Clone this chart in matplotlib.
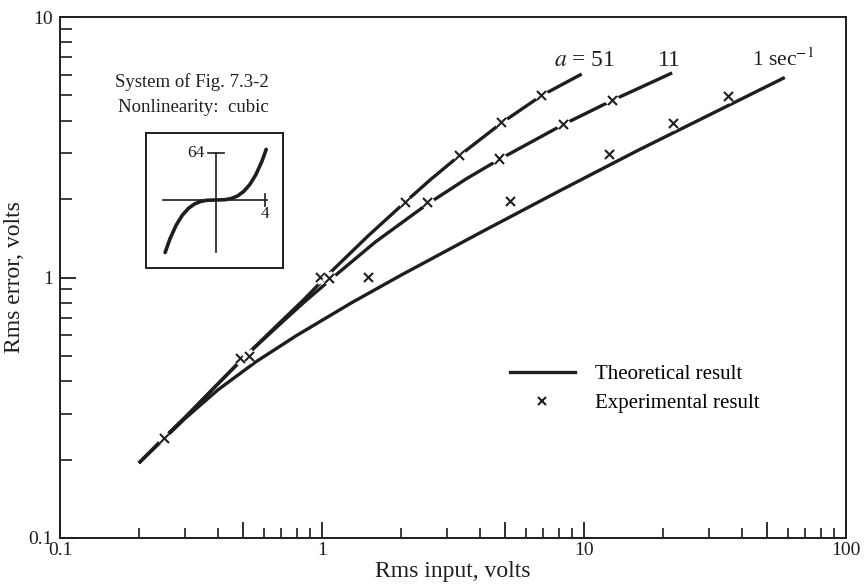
import matplotlib
matplotlib.use("Agg")
import matplotlib.pyplot as plt
import matplotlib.patheffects as pe
from matplotlib.ticker import FixedLocator, FuncFormatter, NullFormatter
from matplotlib.lines import Line2D

plt.rcParams['font.family'] = ['Liberation Serif', 'DejaVu Serif']
plt.rcParams['mathtext.fontset'] = 'stix'

INK = '#1e1e1e'

# ---- theoretical curves (Rms input, Rms error) ----
a51_x = [0.2, 0.25, 0.3, 0.4, 0.5, 0.7, 0.85, 1.0, 1.07, 1.5, 2.08, 2.6, 3.35, 4.86, 6.9, 9.8]
a51_y = [0.194, 0.243, 0.29, 0.39, 0.49, 0.68, 0.82, 0.97, 1.04, 1.445, 1.95, 2.38, 2.94, 3.93, 5.0, 6.04]

a11_x = [0.2, 0.25, 0.3, 0.4, 0.5, 0.7, 0.85, 1.1, 1.6, 2.5, 3.55, 4.75, 8.35, 12.9, 21.7]
a11_y = [0.194, 0.243, 0.29, 0.39, 0.49, 0.67, 0.80, 1.0, 1.37, 1.9, 2.39, 2.84, 3.87, 4.8, 6.1]

a1_x = [0.2, 0.3, 0.4, 0.56, 0.8, 1.3, 2.0, 4.0, 8.0, 16.0, 32.0, 58.4]
a1_y = [0.194, 0.2875, 0.37, 0.475, 0.599, 0.801, 1.02, 1.483, 2.141, 3.07, 4.34, 5.86]

# ---- experimental points ----
exp51_x = [0.25, 0.49, 0.99, 2.08, 3.35, 4.86, 6.9]
exp51_y = [0.24, 0.49, 1.0, 1.94, 2.94, 3.93, 5.0]
exp11_x = [0.53, 1.07, 2.53, 4.75, 8.35, 12.9]
exp11_y = [0.497, 0.99, 1.94, 2.85, 3.88, 4.77]
exp1_x = [1.5, 5.26, 12.5, 22.0, 35.7]
exp1_y = [1.0, 1.95, 2.97, 3.9, 4.94]

curve_labels = ['$a$ = 51', '11', '1 sec$^{-1}$']

# ---- inset cubic nonlinearity ----
cub_x = [-4.15, -3.75, -3.25, -2.75, -2.25, -1.75, -1.25, -0.75, 0, 0.75, 1.25, 1.75, 2.25, 2.75, 3.25, 3.75, 4.1]
cub_y = [-71.5, -52.7, -34.3, -20.8, -11.4, -5.4, -2.0, -0.4, 0, 0.4, 2.0, 5.4, 11.4, 20.8, 34.3, 52.7, 68.9]

x_major = [0.1, 0.5, 1, 5, 10, 50, 100]
x_minor = [0.2, 0.3, 0.4, 0.6, 0.7, 0.8, 0.9, 2, 3, 4, 6, 7, 8, 9, 20, 30, 40, 60, 70, 80, 90]
x_labeled = [0.1, 1, 10, 100]
y_major = [0.1, 1, 10]
y_minor = [0.2, 0.3, 0.4, 0.5, 0.6, 0.7, 0.8, 0.9, 2, 3, 4, 5, 6, 7, 8, 9]

fig = plt.figure(figsize=(8.64, 5.88), dpi=100)
ax = fig.add_axes([60/864, 1-538/588, 786/864, 521/588])
ax.set_xscale('log')
ax.set_yscale('log')
ax.set_xlim(0.1, 100)
ax.set_ylim(0.1, 10)

lw = 2.4
for xs, ys in [(a51_x, a51_y), (a11_x, a11_y), (a1_x, a1_y)]:
    ax.plot(xs, ys, color=INK, lw=lw, solid_capstyle='butt', solid_joinstyle='round', zorder=2)

halo = [pe.withStroke(linewidth=6, foreground='white')]
for xs, ys in [(exp51_x, exp51_y), (exp11_x, exp11_y), (exp1_x, exp1_y)]:
    ax.plot(xs, ys, ls='none', marker='x', ms=6.5, mew=1.5, color=INK,
            path_effects=halo, zorder=3)

# curve labels
ax.text(0.668, 0.906, curve_labels[0], transform=ax.transAxes, ha='center', va='baseline', fontsize=17, color=INK)
ax.text(0.775, 0.906, curve_labels[1], transform=ax.transAxes, ha='center', va='baseline', fontsize=17, color=INK)
ax.text(0.92, 0.906, curve_labels[2], transform=ax.transAxes, ha='center', va='baseline', fontsize=15.5, color=INK)

# ticks
ax.xaxis.set_major_locator(FixedLocator(x_major))
ax.xaxis.set_minor_locator(FixedLocator(x_minor))
ax.xaxis.set_major_formatter(FuncFormatter(lambda v, p: ('%g' % v) if v in x_labeled else ''))
ax.xaxis.set_minor_formatter(NullFormatter())
ax.yaxis.set_major_locator(FixedLocator(y_major))
ax.yaxis.set_minor_locator(FixedLocator(y_minor))
ax.yaxis.set_major_formatter(FuncFormatter(lambda v, p: '%g' % v))
ax.yaxis.set_minor_formatter(NullFormatter())
ax.tick_params(which='major', direction='in', length=11.5, width=1.3, colors=INK,
               labelsize=14, pad=5)
ax.tick_params(axis='x', which='major', pad=3)
ax.tick_params(which='minor', direction='in', length=7, width=1.2, colors=INK)
ax.tick_params(axis='y', which='minor', length=8.5)
for s in ax.spines.values():
    s.set_linewidth(1.4)
    s.set_color(INK)

ax.set_xlabel('Rms input, volts', fontsize=17, color=INK, labelpad=1)
ax.set_ylabel('Rms error, volts', fontsize=17, color=INK, labelpad=3)

# legend
handles = [Line2D([], [], color=INK, lw=lw),
           Line2D([], [], ls='none', marker='x', ms=6, mew=1.5, color=INK)]
ax.legend(handles, ['Theoretical result', 'Experimental result'],
          loc='upper left', bbox_to_anchor=(0.5725, 0.333), frameon=False,
          fontsize=15, handlelength=3.12, handletextpad=0.96, labelspacing=0.44,
          borderpad=0, borderaxespad=0)

# annotation text
fig.text(191.5/864, 1-82/588, 'System of Fig. 7.3-2', ha='center', va='center', fontsize=13.5, color=INK)
fig.text(193.5/864, 1-108/588, 'Nonlinearity:  cubic', ha='center', va='center', fontsize=13.5, color=INK)

# inset
ins = fig.add_axes([146/864, 1-268/588, 137/864, 135/588])
ins.set_xlim(-5.71, 5.47)
ins.set_ylim(-92.6, 91.2)
ins.set_xticks([])
ins.set_yticks([])
for s in ins.spines.values():
    s.set_linewidth(1.4)
    s.set_color(INK)
ins.plot([-4.33, 4.16], [0, 0], color=INK, lw=1.2)
ins.plot([0, 0], [-71, 64], color=INK, lw=1.2)
ins.plot([4.0, 4.0], [-8, 8], color=INK, lw=1.2)
ins.plot([-0.65, 0.65], [64, 64], color=INK, lw=1.2)
ins.plot(cub_x, cub_y, color=INK, lw=2.6, solid_capstyle='round')
ins.text(-0.9, 64, '64', ha='right', va='center', fontsize=12.5, color=INK)
ins.text(4.0, -8, '4', ha='center', va='top', fontsize=12.5, color=INK)

fig.savefig('out.png', dpi=100, facecolor='white')
